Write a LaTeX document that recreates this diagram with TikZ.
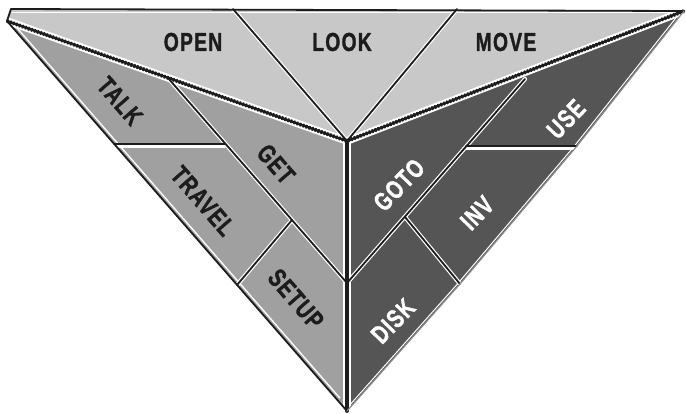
\documentclass[tikz,border=0pt]{standalone}
\usepackage{fontspec}
\newfontfamily\labfont[FakeStretch=0.74,LetterSpace=5,FakeBold=1.3]{Liberation Sans}
\definecolor{topc}{RGB}{200,200,200}
\definecolor{leftc}{RGB}{160,160,160}
\definecolor{rightc}{RGB}{85,85,85}
\definecolor{linedark}{RGB}{28,28,28}
\definecolor{txtdark}{RGB}{28,28,28}
\definecolor{rimgray}{RGB}{140,140,140}
\begin{document}
\begin{tikzpicture}[x=1pt,y=-1pt,line join=round,line cap=round,
  lab/.style={font=\labfont\bfseries\fontsize{26}{26}\selectfont,inner sep=0pt},
  darklab/.style={lab,text=txtdark},
  lightlab/.style={lab,text=white},
  edgeline/.style={draw=linedark,line width=1.8pt},
  glowline/.style={draw=white,line width=4.2pt},
  ridgeglow/.style={draw=white,line width=7.5pt},
  ridgecore/.style={draw=linedark,line width=2.4pt},
  ridgerope/.style={draw=linedark,line width=3.8pt,dash pattern=on 1.6pt off 1.6pt,line cap=butt},
  hilite/.style={draw=white,line width=1.3pt}]
\useasboundingbox (0,0) rectangle (686,413);
\fill[white] (0,0) rectangle (686,413);
% key points
\coordinate (TL1) at (11,9);
\coordinate (TL2) at (7,21);
\coordinate (TR) at (684,11);
\coordinate (C) at (347,141);
\coordinate (B) at (347,411);
\coordinate (R1) at (577,146);
\coordinate (R2) at (460,284);
\coordinate (LA) at (233,9);
\coordinate (LB) at (457,9);
\coordinate (G1) at (168,78);
\coordinate (G2) at (347,283);
\coordinate (G3) at (525,79);
\coordinate (H1a) at (114,144);
\coordinate (H1b) at (225,144);
\coordinate (H2a) at (466,146);
\coordinate (H2b) at (577,146);
\coordinate (S1a) at (237,285);
\coordinate (S1b) at (292,220);
\coordinate (D1a) at (405,217);
\coordinate (D1b) at (460,284);
% faces
\fill[topc] (TL1) -- (TR) -- (C) -- (TL2) -- cycle;
\fill[leftc] (TL2) -- (C) -- (B) -- cycle;
\fill[rightc] (C) -- (TR) -- (R1) -- (R2) -- (B) -- cycle;
% highlights inside faces
\begin{scope}
  \clip (TL1) -- (TR) -- (C) -- (TL2) -- cycle;
  \draw[hilite] (12,12.5) -- (682,12.5);
\end{scope}
\draw[hilite] (17.1,28) -- (339.8,398);
\begin{scope}
  \clip (C) -- (TR) -- (R1) -- (R2) -- (B) -- cycle;
  \draw[hilite,line width=1pt] ([xshift=-2.6pt]TR) -- ([xshift=-2.6pt]R1) -- ([xshift=-2.6pt]R2) -- ([xshift=-2.6pt]B);
\end{scope}
% glows
\draw[glowline] (LA) -- (C) -- (LB);
\draw[glowline] (G1) -- (G2) -- (G3);
\draw[glowline,line width=3pt] ([yshift=-2.5pt]H1a) -- ([yshift=-2.5pt]H1b);
\draw[glowline,line width=3pt] ([yshift=-2.5pt]H2a) -- ([yshift=-2.5pt]H2b);
\draw[glowline] (S1a) -- (S1b);
\draw[glowline] (D1a) -- (D1b);
\draw[ridgeglow] (TL2) -- (C) -- (TR);
\draw[ridgeglow] (C) -- (B);
% dark lines
\draw[edgeline] (LA) -- (C) -- (LB);
\draw[edgeline] (G1) -- (G2) -- (G3);
\draw[edgeline] (H1a) -- (H1b);
\draw[edgeline] (H2a) -- (H2b);
\draw[edgeline] (S1a) -- (S1b);
\draw[edgeline] (D1a) -- (D1b);
\draw[ridgecore] (TL2) -- (C) -- (TR);
\draw[ridgerope] (TL2) -- (C) -- (TR);
\draw[draw=linedark,line width=3.8pt] (C) -- (B);
% outer rim
\draw[edgeline] (TL2) -- (TL1) -- (TR);
\draw[edgeline] (TL2) -- (B);
\draw[draw=rimgray,line width=1.2pt] (TR) -- (R1) -- (R2) -- (B);
% labels
\node[darklab] (open) at (193,42) {OPEN};
\node[darklab] (look) at (342,42) {LOOK};
\node[darklab] (move) at (506,42) {MOVE};
\node[darklab,rotate=-49] (talk) at (120,101) {TALK};
\node[darklab,rotate=-49] (get) at (276,164) {GET};
\node[darklab,rotate=-49] (travel) at (203,201) {TRAVEL};
\node[darklab,rotate=-49] (setup) at (296,299) {SETUP};
\node[lightlab,rotate=46] (use) at (566,119) {USE};
\node[lightlab,rotate=46] (goto) at (399,185) {GOTO};
\node[lightlab,rotate=46] (inv) at (477,213) {INV};
\node[lightlab,rotate=46] (disk) at (393,321) {DISK};
\end{tikzpicture}
\end{document}
